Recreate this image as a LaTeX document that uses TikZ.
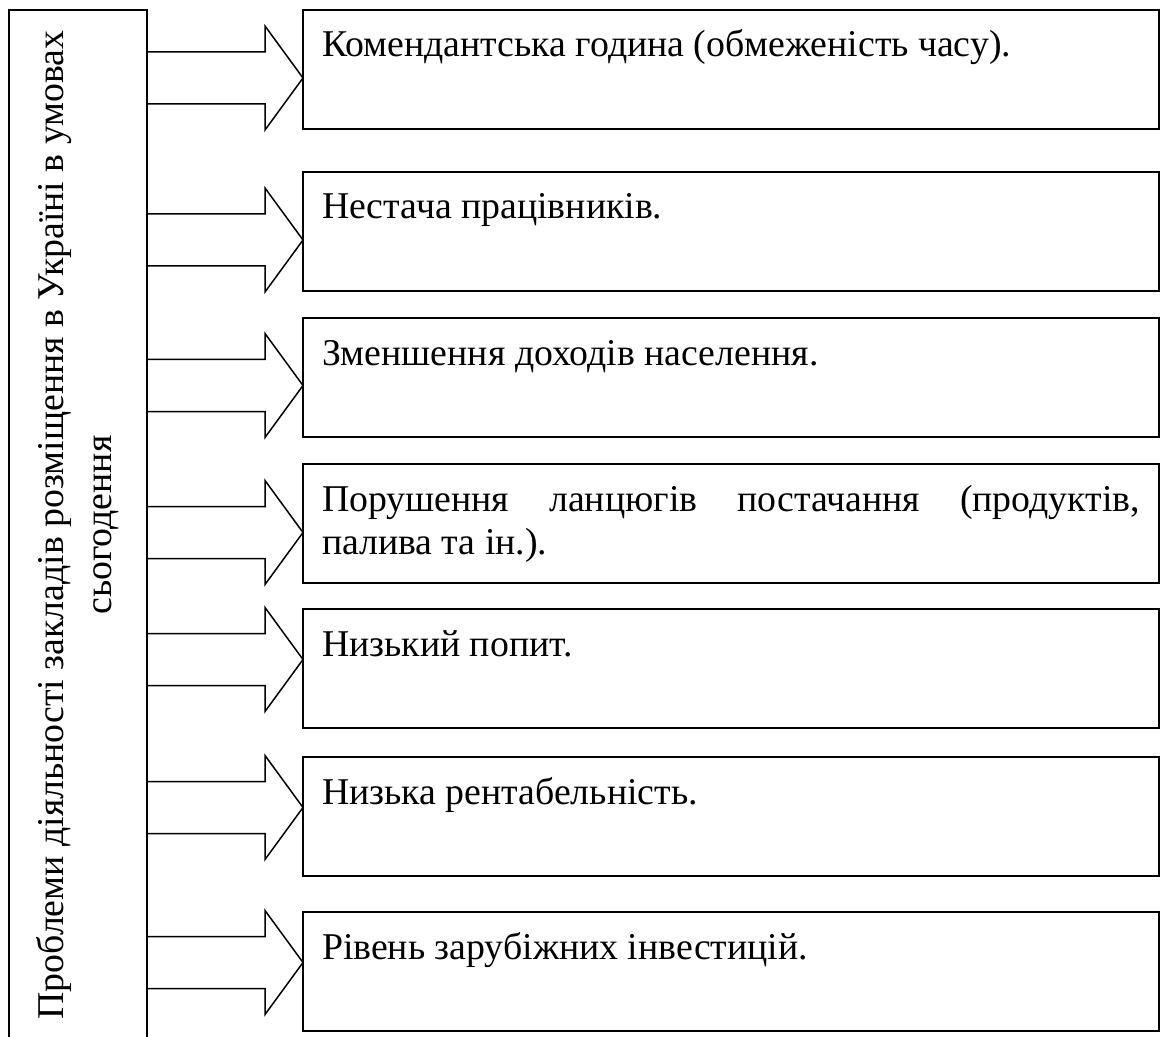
\documentclass[tikz,border=0pt]{standalone}
\usepackage{fontspec}
\setmainfont{Liberation Serif}
\usetikzlibrary{positioning}
\tikzstyle{problem} = [rectangle, draw=black, line width=1pt, outer sep=0pt, text width=409pt, inner xsep=9.5pt, inner ysep=4pt, text height=19.5pt, text depth=32pt, align=justify, font=\fontsize{18.9pt}{21.5pt}\selectfont]
\tikzstyle{topic} = [rectangle, draw=black, line width=1pt, outer sep=0pt, rotate=90, anchor=north east, minimum width=515pt, minimum height=69pt, align=center, font=\fontsize{18.9pt}{24pt}\selectfont]
\tikzstyle{bigarrow} = [line width=0.75pt]

\begin{document}
\begin{tikzpicture}[x=0.5pt, y=-0.5pt]
                    \useasboundingbox (0,0) rectangle (1161,1037);
                    \clip (0,0) rectangle (1161,1037);
                    \node (topic) [topic] at (9,10) {Проблеми діяльності закладів розміщення в Україні в умовах\\сьогодення};

                    \node (b1) [problem, anchor=north west] at (303,10) {Комендантська година (обмеженість часу).};
                    \node (b2) [problem, below=21.5pt of b1] {Нестача працівників.};
                    \node (b3) [problem, below=13.5pt of b2] {Зменшення доходів населення.};
                    \node (b4) [problem, below=13.5pt of b3] {Порушення ланцюгів постачання (продуктів, палива та ін.).};
                    \node (b5) [problem, below=13pt of b4] {Низький попит.};
                    \node (b6) [problem, below=14.5pt of b5] {Низька рентабельність.};
                    \node (b7) [problem, below=18pt of b6] {Рівень зарубіжних інвестицій.};

                    \foreach \b/\d in {b1/8.5, b2/8.5, b3/8, b4/9, b5/-9, b6/-9, b7/-9} {
                        \path (\b.west) ++(0,\d) coordinate (tip);
                        \draw [bigarrow] (topic.south |- tip) ++(0,-26) -- ++(118,0) -- ++(0,-26) -- (tip) -- ++(-38,52) -- ++(0,-26) -- ++(-118,0);
                    }
                \end{tikzpicture}
\end{document}
